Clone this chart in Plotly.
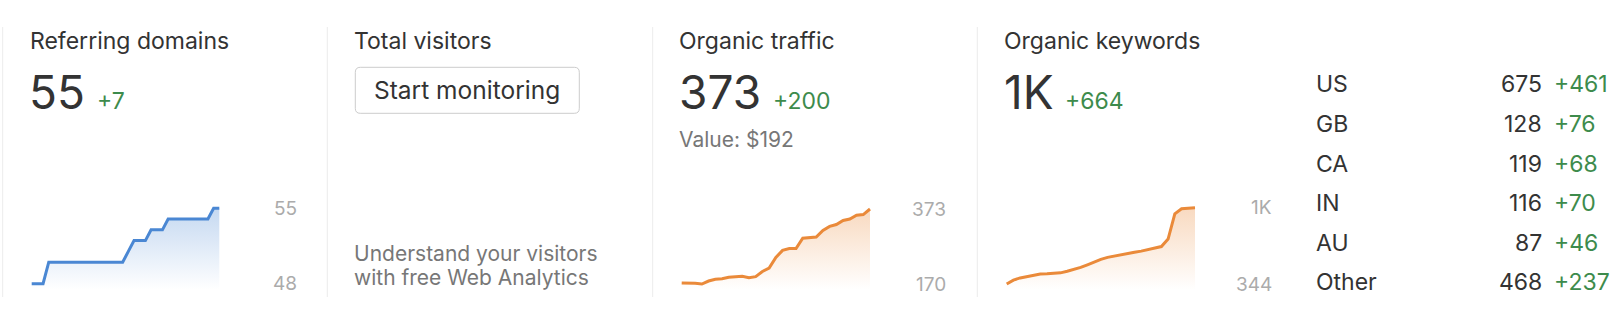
import plotly.graph_objects as go

W, H = 1620, 326

# ---------------- data ----------------
panel_titles = ["Referring domains", "Total visitors", "Organic traffic", "Organic keywords"]
big_values = ["55", "373", "1K"]
big_changes = ["+7", "+200", "+664"]
traffic_value = "Value: $192"
button_text = "Start monitoring"
promo_lines = ["Understand your visitors", "with free Web Analytics"]

ref_domains = [48, 48, 48, 50, 50, 50, 50, 50, 50, 50, 50, 50, 50, 50, 50, 50, 50,
               51, 52, 52, 52, 53, 53, 53, 54, 54, 54, 54, 54, 54, 54, 54, 55, 55]
organic_traffic = [173, 173, 172, 170, 178, 183, 184, 188, 190, 191, 187, 190, 204, 213,
                   242, 261, 266, 266, 294, 296, 297, 315, 326, 331, 342, 346, 356, 358, 373]
organic_keywords = [344, 378, 397, 408, 420, 431, 433, 435, 441, 455, 470, 488, 511, 538,
                    558, 576, 588, 601, 610, 620, 630, 643, 656, 670, 735, 955, 999, 1003, 1008]
spark_top_labels = ["55", "373", "1K"]
spark_bottom_labels = ["48", "170", "344"]

countries = ["US", "GB", "CA", "IN", "AU", "Other"]
country_keywords = [675, 128, 119, 116, 87, 468]
country_changes = [461, 76, 68, 70, 46, 237]

# ---------------- style ----------------
FONT = "Inter"
DARK = "#333333"
GREEN = "#3d8b4c"
GRAY = "#777777"
LIGHT = "#ababab"
SEP = "#ececec"
BLUE = (74, 135, 211)
ORANGE = (234, 138, 58)


def fx(x):
    return x / W


def fy(y):
    return 1 - y / H


fig = go.Figure()
annotations = []
shapes = []


def text(x, y, s, size, color, xanchor="left", yanchor="middle", xref="paper", yref="paper"):
    annotations.append(dict(
        x=fx(x) if xref == "paper" else x,
        y=fy(y) if yref == "paper" else y,
        xref=xref, yref=yref, text=s, showarrow=False,
        xanchor=xanchor, yanchor=yanchor, borderpad=0, borderwidth=0,
        font=dict(family=FONT, size=size, color=color)))


# separators
for sx in [2.7, 327.3, 652.7, 977.3]:
    shapes.append(dict(type="line", xref="paper", yref="paper",
                       x0=fx(sx), x1=fx(sx), y0=fy(27), y1=fy(297),
                       line=dict(color=SEP, width=1)))

# titles
title_x = [29.5, 354, 679, 1004]
for t, tx in zip(panel_titles, title_x):
    text(tx, 41, t, 23, DARK)

# big numbers & changes
big_x = [29, 679, 1004]
chg_x = [97, 773, 1065]
for v, c, bx, cx in zip(big_values, big_changes, big_x, chg_x):
    text(bx, 92, v, 46, DARK)
    text(cx, 101, c, 23, GREEN)

text(679, 139, traffic_value, 21, GRAY)

# button
bx0, by0, bx1, by1, r = 355.3, 67.3, 579.3, 113.3, 5


def P(x, y):
    return f"{fx(x):.6f},{fy(y):.6f}"


path = (f"M {P(bx0 + r, by0)} L {P(bx1 - r, by0)} Q {P(bx1, by0)} {P(bx1, by0 + r)} "
        f"L {P(bx1, by1 - r)} Q {P(bx1, by1)} {P(bx1 - r, by1)} "
        f"L {P(bx0 + r, by1)} Q {P(bx0, by1)} {P(bx0, by1 - r)} "
        f"L {P(bx0, by0 + r)} Q {P(bx0, by0)} {P(bx0 + r, by0)} Z")
shapes.append(dict(type="path", xref="paper", yref="paper", path=path,
                   line=dict(color="#cccccc", width=1), fillcolor="white"))
text((bx0 + bx1) / 2, 90, button_text, 24.5, DARK, xanchor="center")

text(354, 253, promo_lines[0], 21, GRAY)
text(354, 277, promo_lines[1], 21, GRAY)

# sparklines
sparks = [
    dict(data=ref_domains, x0=31.7, x1=219.3, ytop=208.3, ybot=283.7, color=BLUE, lab_x=297),
    dict(data=organic_traffic, x0=681.7, x1=870, ytop=209, ybot=284, color=ORANGE, lab_x=946),
    dict(data=organic_keywords, x0=1006.7, x1=1195, ytop=207.7, ybot=284, color=ORANGE, lab_x=1272),
]
layout_axes = {}
for i, sp in enumerate(sparks):
    n = len(sp["data"])
    vmin, vmax = min(sp["data"]), max(sp["data"])
    dl, dr = sp["x0"] - 6, sp["x1"] + 6
    dt, db = 195, 298
    dx = (sp["x1"] - sp["x0"]) / (n - 1)
    vy = (sp["ybot"] - sp["ytop"]) / (vmax - vmin)
    xr = [-(sp["x0"] - dl) / dx, (n - 1) + (dr - sp["x1"]) / dx]
    yr = [vmin - (db - sp["ybot"]) / vy, vmax + (sp["ytop"] - dt) / vy]
    k = "" if i == 0 else str(i + 1)
    rgb = sp["color"]
    fig.add_trace(go.Scatter(
        x=list(range(n)), y=sp["data"], mode="lines", xaxis="x" + k, yaxis="y" + k,
        line=dict(color=f"rgb({rgb[0]},{rgb[1]},{rgb[2]})", width=3),
        fill="tozeroy",
        fillgradient=dict(type="vertical", start=vmin - (vmax - vmin) * 0.08, stop=vmax,
                          colorscale=[[0, f"rgba({rgb[0]},{rgb[1]},{rgb[2]},0)"],
                                      [1, f"rgba({rgb[0]},{rgb[1]},{rgb[2]},0.32)"]]),
        hoverinfo="skip", showlegend=False))
    layout_axes["xaxis" + k] = dict(domain=[fx(dl), fx(dr)], range=xr, visible=False,
                                    anchor="y" + k, fixedrange=True)
    layout_axes["yaxis" + k] = dict(domain=[fy(db), fy(dt)], range=yr, visible=False,
                                    anchor="x" + k, fixedrange=True)
    text(sp["lab_x"], vmax, spark_top_labels[i], 19, LIGHT, xanchor="right",
         yref="y" + k)
    text(sp["lab_x"], vmin, spark_bottom_labels[i], 19, LIGHT, xanchor="right",
         yref="y" + k)

# country table
row_y = [83.7, 123.7, 163.7, 203, 243, 282]
for c, v, d, ry in zip(countries, country_keywords, country_changes, row_y):
    text(1316, ry, c, 23, DARK)
    text(1542, ry, f"{v}", 23, DARK, xanchor="right")
    text(1553.5, ry, f"+{d}", 23, GREEN)

fig.update_layout(
    width=W, height=H, margin=dict(l=0, r=0, t=0, b=0),
    paper_bgcolor="white", plot_bgcolor="rgba(0,0,0,0)",
    annotations=annotations, shapes=shapes, showlegend=False,
    **layout_axes)

fig.write_html("out.html", config={"displayModeBar": False})
